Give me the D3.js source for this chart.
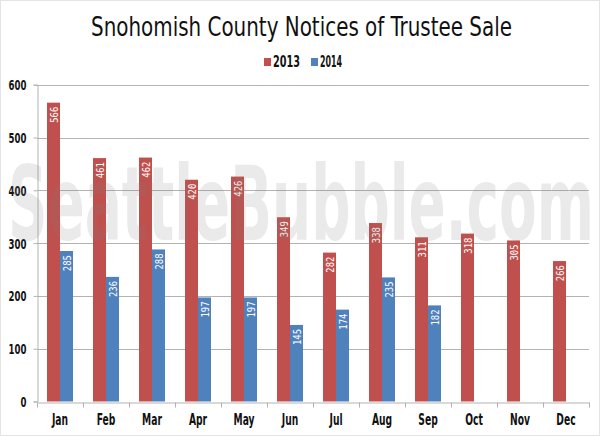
<!DOCTYPE html>
<html><head><meta charset="utf-8">
<script src="https://cdn.jsdelivr.net/npm/d3@7"></script>
<style>body{margin:0;background:#fff}svg{display:block}</style>
</head><body>
<script>
const months = ["Jan","Feb","Mar","Apr","May","Jun","Jul","Aug","Sep","Oct","Nov","Dec"];
const series2013 = [566,461,462,420,426,349,282,338,311,318,305,266];
const series2014 = [285,236,288,197,197,145,174,235,182];
const yTicks = [0,100,200,300,400,500,600];
const seriesNames = ["2013","2014"];
const colors = ["#c0504d","#4f81bd"];

const W=600,H=436;
const svg=d3.select("body").append("svg").attr("width",W).attr("height",H);
svg.append("rect").attr("x",0.5).attr("y",0.5).attr("width",W-1).attr("height",H-1).attr("fill","#fff").attr("stroke","#e4e4e4");
const m={l:37,r:589,t:84.7,b:401.5};
const font="'DejaVu Sans Condensed','DejaVu Sans',sans-serif";
const x=d3.scaleBand().domain(months).range([m.l,m.r]);
const y=d3.scaleLinear().domain([0,600]).range([m.b,m.t]);
const bw=13;
function condense(sel,f){sel.each(function(){const L=this.getComputedTextLength();d3.select(this).attr("textLength",L*f).attr("lengthAdjust","spacingAndGlyphs");});}

// gridlines
svg.append("g").selectAll("line").data(yTicks.filter(d=>d>0)).join("line")
 .attr("x1",m.l).attr("x2",m.r).attr("y1",d=>Math.round(y(d))+0.5).attr("y2",d=>Math.round(y(d))+0.5)
 .attr("stroke","#b3b3b3").attr("stroke-width",1);

// y axis
const ya=svg.append("g").attr("transform",`translate(${m.l+0.5},0)`)
 .call(d3.axisLeft(y).tickValues(yTicks).tickSize(4).tickPadding(7));
ya.select(".domain").attr("stroke","#b3b3b3");
ya.selectAll(".tick line").attr("stroke","#b3b3b3");
ya.selectAll("text").attr("font-family",font).attr("font-weight","bold").attr("font-size",14).attr("fill","#111").attr("dy","0.36em").call(condense,0.68);

// x axis
const xa=svg.append("g").attr("transform",`translate(0,${Math.round(m.b)+0.5})`)
 .call(d3.axisBottom(x).tickSize(0).tickPadding(12));
xa.select(".domain").attr("stroke","#b3b3b3");
xa.selectAll("text").attr("font-family",font).attr("font-weight","bold").attr("font-size",15).attr("fill","#111").call(condense,0.68);
xa.append("g").selectAll("line").data(d3.range(months.length+1)).join("line")
 .attr("x1",i=>Math.round(m.l+i*x.bandwidth())+0.5).attr("x2",i=>Math.round(m.l+i*x.bandwidth())+0.5)
 .attr("y1",0).attr("y2",5).attr("stroke","#b3b3b3");

// bars
const sets=[series2013,series2014];
sets.forEach((vals,si)=>{
  const g=svg.append("g");
  const data=vals.map((v,i)=>({m:months[i],v}));
  g.selectAll("rect").data(data).join("rect")
   .attr("x",d=>x(d.m)+x.bandwidth()/2-bw+si*bw).attr("width",bw)
   .attr("y",d=>y(d.v)).attr("height",d=>y(0)-y(d.v)).attr("fill",colors[si]);
  g.selectAll("text").data(data).join("text")
   .attr("transform",d=>`translate(${x(d.m)+x.bandwidth()/2-bw/2+si*bw+4},${y(d.v)+4}) rotate(-90)`)
   .attr("text-anchor","end").attr("fill","#fff")
   .attr("font-family","'DejaVu Sans Mono',monospace").attr("font-size",10.5)
   .text(d=>d.v).call(condense,0.85);
});

// watermark
svg.append("text").attr("x",8).attr("y",240)
 .attr("font-family",font).attr("font-weight","bold").attr("font-size",104)
 .attr("textLength",586).attr("lengthAdjust","spacingAndGlyphs")
 .attr("fill","#7a7a7a").attr("fill-opacity",0.16).text("SeattleBubble.com");

// title
svg.append("text").attr("x",91).attr("y",36)
 .attr("font-family",font).attr("font-size",26).attr("fill","#111")
 .attr("textLength",421).attr("lengthAdjust","spacingAndGlyphs")
 .text("Snohomish County Notices of Trustee Sale");

// legend
const leg=svg.append("g");
const lx=[264,311];
seriesNames.forEach((n,i)=>{
  leg.append("rect").attr("x",lx[i]).attr("y",58).attr("width",7).attr("height",8).attr("fill",colors[i]);
  leg.append("text").attr("x",lx[i]+9).attr("y",67).attr("font-family",font).attr("font-weight","bold")
   .attr("font-size",15).attr("textLength",i?22:27).attr("lengthAdjust","spacingAndGlyphs")
   .attr("fill","#111").text(n);
});
</script>
</body></html>
